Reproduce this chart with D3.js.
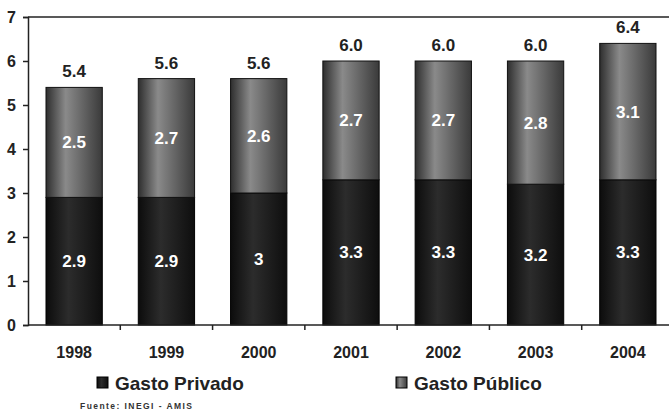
<!DOCTYPE html>
<html>
<head>
<meta charset="utf-8">
<script src="https://cdn.jsdelivr.net/npm/d3@7"></script>
<style>
  body { margin: 0; background: #fff; }
  svg text { font-family: "Liberation Sans", Arial, sans-serif; font-weight: bold; }
</style>
</head>
<body>
<div id="viz_container"></div>
<script>
// data
const years = ["1998", "1999", "2000", "2001", "2002", "2003", "2004"];
const privado = [2.9, 2.9, 3, 3.3, 3.3, 3.2, 3.3];
const publico = [2.5, 2.7, 2.6, 2.7, 2.7, 2.8, 3.1];
const totals = [5.4, 5.6, 5.6, 6.0, 6.0, 6.0, 6.4];
const yTicks = [0, 1, 2, 3, 4, 5, 6, 7];

const W = 669, H = 415;
const margin = { top: 17, right: -5, bottom: 90, left: 28 };
const width = W - margin.left - margin.right;
const height = H - margin.top - margin.bottom;

const svg = d3.select("#viz_container")
    .append("svg")
    .attr("width", W)
    .attr("height", H);

// gradients for the cylinder look
const defs = svg.append("defs");
function grad(id, stops) {
    const g = defs.append("linearGradient").attr("id", id)
        .attr("x1", "0%").attr("x2", "100%").attr("y1", "0%").attr("y2", "0%");
    stops.forEach(s => g.append("stop").attr("offset", s[0]).attr("stop-color", s[1]));
}
grad("gPriv", [["0%", "#0c0c0c"], ["40%", "#2c2c2c"], ["100%", "#0e0e0e"]]);
grad("gPub", [["0%", "#2e2e2e"], ["35%", "#8a8a8a"], ["100%", "#3a3a3a"]]);

const g = svg.append("g").attr("transform", `translate(${margin.left},${margin.top})`);

const x = d3.scaleBand().domain(years).range([0, width]).paddingInner(0.39).paddingOuter(0.195);
const xb = d3.scaleBand().domain(years).range([0, width]);
const y = d3.scaleLinear().domain([0, 7]).range([height, 0]);

// top border line
g.append("line")
    .attr("x1", 0).attr("x2", width)
    .attr("y1", y(7)).attr("y2", y(7))
    .attr("stroke", "#222").attr("stroke-width", 1.5);

// bars
const rows = years.map((yr, i) => ({ yr, p: privado[i], q: publico[i], t: totals[i] }));

g.selectAll(".priv").data(rows).join("rect")
    .attr("x", d => x(d.yr))
    .attr("y", d => y(d.p))
    .attr("width", x.bandwidth())
    .attr("height", d => y(0) - y(d.p))
    .attr("fill", "url(#gPriv)")
    .attr("stroke", "#000").attr("stroke-width", 1);

g.selectAll(".pub").data(rows).join("rect")
    .attr("x", d => x(d.yr))
    .attr("y", d => y(d.p + d.q))
    .attr("width", x.bandwidth())
    .attr("height", d => y(d.p) - y(d.p + d.q))
    .attr("fill", "url(#gPub)")
    .attr("stroke", "#111").attr("stroke-width", 1);

// labels inside
g.selectAll(".lp").data(rows).join("text")
    .attr("x", d => x(d.yr) + x.bandwidth() / 2)
    .attr("y", d => (y(0) + y(d.p)) / 2 + 6)
    .attr("text-anchor", "middle")
    .attr("fill", "#fff").attr("font-size", 17)
    .text(d => d.p);

g.selectAll(".lq").data(rows).join("text")
    .attr("x", d => x(d.yr) + x.bandwidth() / 2)
    .attr("y", d => (y(d.p) + y(d.p + d.q)) / 2 + 6)
    .attr("text-anchor", "middle")
    .attr("fill", "#fff").attr("font-size", 17)
    .text(d => d.q);

g.selectAll(".lt").data(rows).join("text")
    .attr("x", d => x(d.yr) + x.bandwidth() / 2)
    .attr("y", d => y(d.t) - 10)
    .attr("text-anchor", "middle")
    .attr("fill", "#222").attr("font-size", 17)
    .text(d => d3.format(".1f")(d.t));

// y axis
g.append("g")
    .call(d3.axisLeft(y).tickValues(yTicks).tickSize(5).tickPadding(7).tickFormat(d3.format("d")))
    .call(a => a.select(".domain").attr("stroke", "#222").attr("stroke-width", 1.5))
    .call(a => a.selectAll("line").attr("stroke", "#222").attr("stroke-width", 1.5))
    .call(a => a.selectAll("text").attr("font-size", 16).attr("fill", "#222")
        .style("font-family", "Liberation Sans, Arial, sans-serif").style("font-weight", "bold"));

// x axis: baseline with ticks between categories
g.append("line")
    .attr("x1", 0).attr("x2", width)
    .attr("y1", height).attr("y2", height)
    .attr("stroke", "#222").attr("stroke-width", 1.5);
g.selectAll(".xt").data(years.slice(1)).join("line")
    .attr("x1", d => xb(d)).attr("x2", d => xb(d))
    .attr("y1", height).attr("y2", height + 5)
    .attr("stroke", "#222").attr("stroke-width", 1.5);
g.selectAll(".xl").data(years).join("text")
    .attr("x", d => x(d) + x.bandwidth() / 2)
    .attr("y", height + 33)
    .attr("text-anchor", "middle")
    .attr("font-size", 16).attr("fill", "#222")
    .text(d => d);

// legend
const legend = [
    { name: "Gasto Privado", fill: "url(#gPriv)", x: 97 },
    { name: "Gasto Público", fill: "url(#gPub)", x: 396 }
];
legend.forEach(l => {
    svg.append("rect")
        .attr("x", l.x).attr("y", 377)
        .attr("width", 11).attr("height", 11)
        .attr("fill", l.fill).attr("stroke", "#000");
    svg.append("text")
        .attr("x", l.x + 18).attr("y", 390)
        .attr("font-size", 19).attr("fill", "#222")
        .text(l.name);
});

// source
svg.append("text")
    .attr("x", 80).attr("y", 409)
    .attr("font-size", 8.5).attr("fill", "#333")
    .attr("textLength", 112)
    .text("Fuente:  INEGI   - AMIS");
</script>
</body>
</html>
